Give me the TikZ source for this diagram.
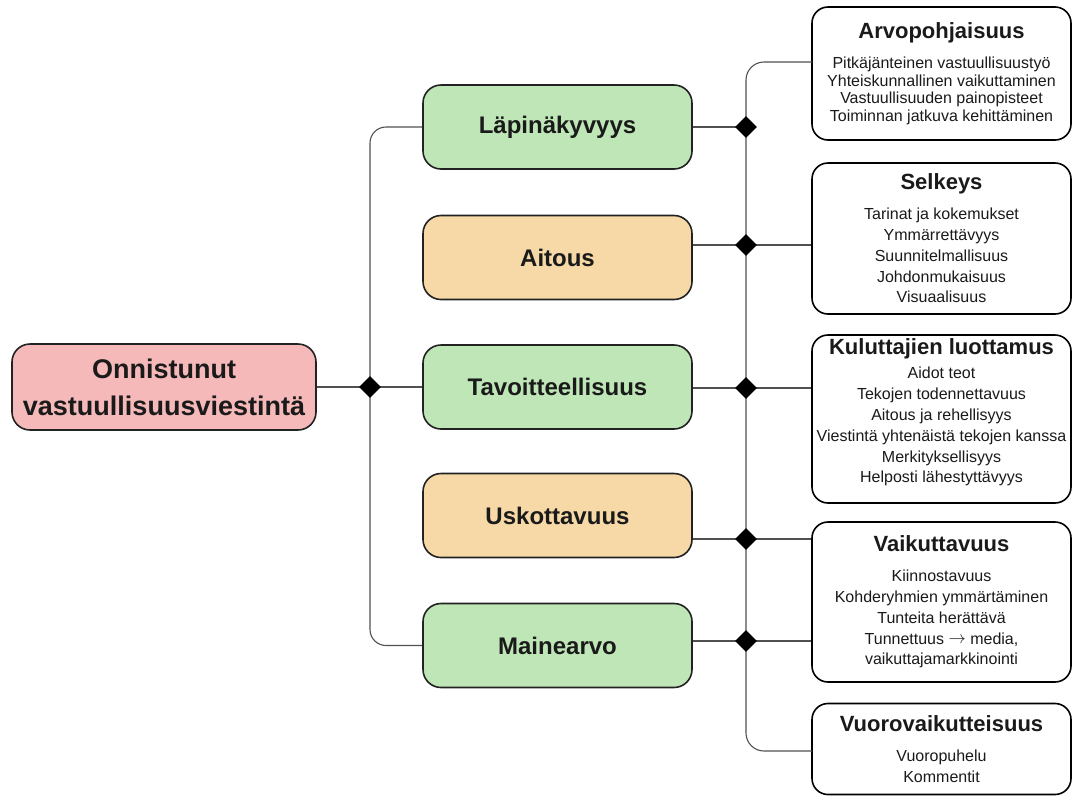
\documentclass[tikz,border=0pt]{standalone}
\usepackage{fontspec}
\setmainfont{Liberation Sans}
\usetikzlibrary{shapes.geometric}
\definecolor{gfill}{HTML}{BEE6B6}
\definecolor{ofill}{HTML}{F6D9A6}
\definecolor{pfill}{HTML}{F5B9B9}
\definecolor{edgec}{HTML}{222222}
\definecolor{connc}{HTML}{505050}
\definecolor{txtc}{HTML}{1A1A1A}
\begin{document}
\begin{tikzpicture}[x=1pt,y=-1pt,
  midbox/.style={draw=edgec, line width=1.6pt, rounded corners=18pt,
    minimum width=269pt, minimum height=84pt, inner sep=0pt,
    font=\fontsize{24}{28}\selectfont\bfseries, text=txtc},
  rootbox/.style={draw=edgec, line width=1.6pt, rounded corners=18pt, fill=pfill,
    minimum width=304pt, minimum height=86pt, inner sep=0pt, align=center,
    font=\fontsize{27}{37}\selectfont\bfseries, text=txtc},
  rbox/.style={draw=black, line width=1.6pt, rounded corners=16pt, fill=white,
    minimum width=259pt, inner sep=0pt, align=center,
    font=\fontsize{16}{20.8}\selectfont, text=txtc},
  conn/.style={draw=connc, line width=1.1pt},
  junc/.style={diamond, fill=black, draw=none, inner sep=0pt, minimum size=22pt}
]
\useasboundingbox (0,0) rectangle (1076,796);

% root and middle boxes
\node[rootbox] (onn) at (164,387) {Onnistunut\\vastuullisuusviestintä};
\node[midbox, fill=gfill] (lap) at (557.5,127) {Läpinäkyvyys};
\node[midbox, fill=ofill] (ait) at (557.5,257.5) {Aitous};
\node[midbox, fill=gfill] (tav) at (557.5,387) {Tavoitteellisuus};
\node[midbox, fill=ofill] (usk) at (557.5,515.5) {Uskottavuus};
\node[midbox, fill=gfill] (mai) at (557.5,645.5) {Mainearvo};

% right boxes
\node[rbox, minimum height=133pt, font=\fontsize{16}{17.5}\selectfont] (arv) at (941.5,73.5)
  {{\fontsize{22}{26}\selectfont\bfseries Arvopohjaisuus}\\[13pt]
   Pitkäjänteinen vastuullisuustyö\\Yhteiskunnallinen vaikuttaminen\\
   Vastuullisuuden painopisteet\\Toiminnan jatkuva kehittäminen};
\node[rbox, minimum height=151pt] (sel) at (941.5,238.5)
  {{\fontsize{22}{26}\selectfont\bfseries Selkeys}\\[9pt]
   Tarinat ja kokemukset\\Ymmärrettävyys\\Suunnitelmallisuus\\
   Johdonmukaisuus\\Visuaalisuus};
\node[rbox, minimum height=168pt] (kul) at (941.5,419)
  {{\fontsize{22}{26}\selectfont\bfseries Kuluttajien luottamus}\\[4pt]
   Aidot teot\\Tekojen todennettavuus\\Aitous ja rehellisyys\\
   Viestintä yhtenäistä tekojen kanssa\\Merkityksellisyys\\
   Helposti lähestyttävyys\\[-4pt]\mbox{}};
\node[rbox, minimum height=160pt] (vai) at (941.5,602)
  {{\fontsize{22}{26}\selectfont\bfseries Vaikuttavuus}\\[9pt]
   Kiinnostavuus\\Kohderyhmien ymmärtäminen\\Tunteita herättävä\\
   Tunnettuus \raisebox{0.3pt}{$\rightarrow$} media,\\vaikuttajamarkkinointi};
\node[rbox, minimum height=91pt] (vuo) at (941.5,749)
  {{\fontsize{22}{26}\selectfont\bfseries Vuorovaikutteisuus}\\[9pt]
   Vuoropuhelu\\Kommentit};

% junction points
\coordinate (j0) at (370,387);
\coordinate (j1) at (746,127);
\coordinate (j2) at (746,245);
\coordinate (j3) at (746,388);
\coordinate (j4) at (746,539);
\coordinate (j5) at (746,641);
\coordinate (rt) at (812,62);
\coordinate (rb) at (812,751);

% connectors
\draw[conn, rounded corners=16pt] (lap.west) -| (j0) |- (mai.west);
\draw[conn] (onn.east) -- (j0) -- (tav.west);
\draw[conn, rounded corners=18pt] (rt) -| (j1) -- (j5) |- (rb);
\draw[conn] (lap.east |- j1) -- (j1);
\draw[conn] (ait.east |- j2) -- (j2) -- (sel.west |- j2);
\draw[conn] (tav.east |- j3) -- (j3) -- (kul.west |- j3);
\draw[conn] (usk.east |- j4) -- (j4) -- (vai.west |- j4);
\draw[conn] (mai.east |- j5) -- (j5) -- (vai.west |- j5);

% diamonds
\node[junc] (d0) at (j0) {};
\node[junc] (d1) at (j1) {};
\node[junc] (d2) at (j2) {};
\node[junc] (d3) at (j3) {};
\node[junc] (d4) at (j4) {};
\node[junc] (d5) at (j5) {};
\end{tikzpicture}
\end{document}
